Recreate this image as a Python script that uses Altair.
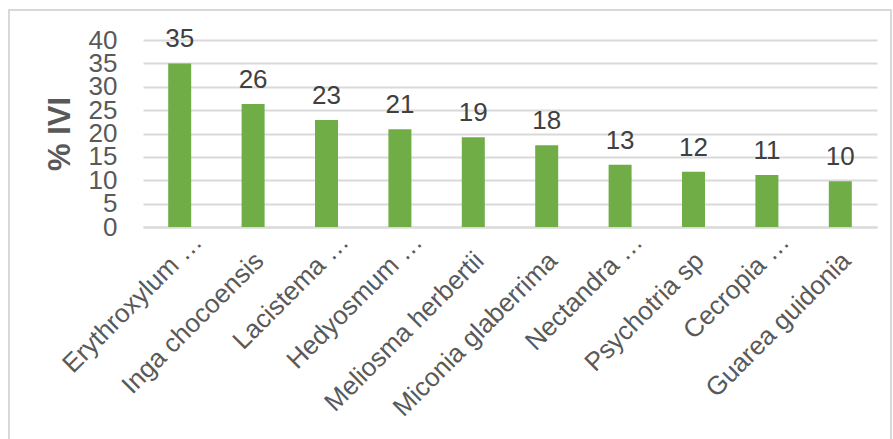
import altair as alt
import pandas as pd

species = [
    "Erythroxylum …",
    "Inga chocoensis",
    "Lacistema …",
    "Hedyosmum …",
    "Meliosma herbertii",
    "Miconia glaberrima",
    "Nectandra …",
    "Psychotria sp",
    "Cecropia …",
    "Guarea guidonia",
]
ivi = [35.0, 26.3, 22.9, 20.9, 19.2, 17.5, 13.3, 11.8, 11.1, 9.8]
value_labels = ["35", "26", "23", "21", "19", "18", "13", "12", "11", "10"]
y_ticks = [0, 5, 10, 15, 20, 25, 30, 35, 40]

df = pd.DataFrame({"species": species, "ivi": ivi, "label": value_labels})

FONT = "Liberation Sans"
GREY = "#595959"
GRID = "#d9d9d9"

ellipsis_test = "indexof(datum.label, '…') >= 0"

x_enc = alt.X(
    "species:N",
    sort=species,
    title=None,
    axis=alt.Axis(
        labelAngle=-45,
        labelAlign="right",
        labelBaseline="alphabetic",
        labelFont=FONT,
        labelFontSize=26,
        labelColor=GREY,
        labelLimit=400,
        labelOverlap=False,
        labelOffset={"condition": {"test": ellipsis_test, "value": 24}, "value": 12},
        labelPadding={"condition": {"test": ellipsis_test, "value": 16}, "value": 35},
        ticks=False,
        domain=True,
        domainColor=GRID,
        domainWidth=2,
        grid=False,
    ),
)

y_enc = alt.Y(
    "ivi:Q",
    scale=alt.Scale(domain=[0, 40], nice=False),
    title="% IVI",
    axis=alt.Axis(
        values=y_ticks,
        labelFont=FONT,
        labelFontSize=26,
        labelColor=GREY,
        labelPadding=26,
        labelOverlap=False,
        labelBound=False,
        ticks=False,
        domain=False,
        grid=True,
        gridColor=GRID,
        gridWidth=2,
        titleFont=FONT,
        titleFontSize=31,
        titleFontWeight="bold",
        titleColor=GREY,
        titlePadding=12,
    ),
)

base = alt.Chart(df)

bars = base.mark_bar(size=23, color="#70AD47").encode(x=x_enc, y=y_enc)

texts = base.mark_text(
    font=FONT, fontSize=26, color="#404040", baseline="alphabetic", dy=-16
).encode(x=x_enc, y=y_enc, text="label:N")

border = base.mark_rect(
    fill=None, stroke=GRID, strokeWidth=1.5
).encode(
    x=alt.value(-134), x2=alt.value(748), y=alt.value(-30), y2=alt.value(400)
)

chart = (
    alt.layer(border, bars, texts)
    .properties(
        width=734,
        height=187,
        autosize=alt.AutoSizeParams(type="none"),
        padding={"left": 143, "top": 40, "right": 16, "bottom": 212},
        background="white",
    )
    .configure_view(stroke=None)
)

chart.save("out.html", embed_options={"renderer": "svg", "actions": False})
